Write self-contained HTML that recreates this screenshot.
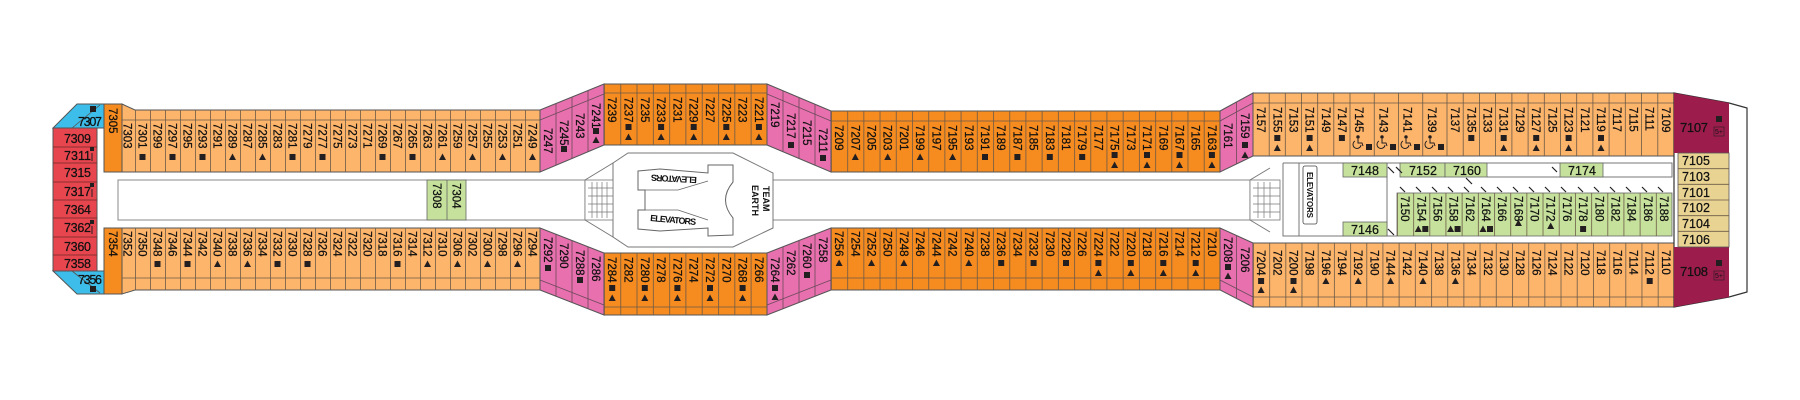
<!DOCTYPE html>
<html><head><meta charset="utf-8"><style>
html,body{margin:0;padding:0;background:#fff;}
svg{display:block;}
text{font-family:"Liberation Sans",sans-serif;font-size:11.5px;fill:#111;stroke:#111;stroke-width:0.25;}
.h{font-size:12.5px;}
.b{font-weight:bold;font-size:9px;stroke-width:0;}
</style></head><body>
<svg width="1800" height="400" viewBox="0 0 1800 400" xmlns="http://www.w3.org/2000/svg">
<defs>
<pattern id="pA" x="120" y="0" width="15" height="400" patternUnits="userSpaceOnUse"><path d="M0.4 0V400" stroke="#6b5a48" stroke-width="0.8"/></pattern>
<pattern id="pM" x="604" y="0" width="16.3" height="400" patternUnits="userSpaceOnUse"><path d="M0.4 0V400" stroke="#6b5a48" stroke-width="0.8"/></pattern>
<pattern id="pD" x="831" y="0" width="16.208" height="400" patternUnits="userSpaceOnUse"><path d="M0.4 0V400" stroke="#6b5a48" stroke-width="0.8"/></pattern>
<pattern id="pR" x="1253" y="0" width="16.19" height="400" patternUnits="userSpaceOnUse"><path d="M0.4 0V400" stroke="#6b5a48" stroke-width="0.8"/></pattern>
<pattern id="pG" x="1397" y="0" width="16.18" height="400" patternUnits="userSpaceOnUse"><path d="M0.4 0V400" stroke="#6b5a48" stroke-width="0.8"/></pattern>
<rect id="s" x="-3" y="-3" width="6" height="6" fill="#231f20"/>
<polygon id="t" points="0,-3.5 3.5,3 -3.5,3" fill="#231f20"/>
<g id="w" fill="none" stroke="#231f20" stroke-width="1"><circle cx="0" cy="-5" r="1.2" fill="#231f20"/><path d="M-3 -1 A4 4 0 1 0 3 3"/><path d="M0 -3V1H4L5 4"/></g>
</defs>

<rect x="118" y="180" width="467" height="40" fill="#fff" stroke="#888" stroke-width="1"/>
<rect x="773" y="180" width="477" height="40" fill="#fff" stroke="#888" stroke-width="1"/>

<rect x="53" y="128" width="44" height="143" fill="#e8464f" stroke="#555" stroke-width="1"/>
<path d="M53 147H97M53 163H97M53 182H97M53 200H97M53 218H97M53 237H97M53 255H97" stroke="#6b2a2a" stroke-width="0.8"/>
<polygon points="77,104 104,104 104,128 53,128" fill="#3dbde9" stroke="#555" stroke-width="1"/>
<path d="M100,105 L72,128" stroke="#555" stroke-width="0.8"/>
<polygon points="53,271 104,271 104,294 77,294" fill="#3dbde9" stroke="#555" stroke-width="1"/>
<path d="M100,293 L72,271" stroke="#555" stroke-width="0.8"/>
<rect x="104" y="104" width="18" height="68" fill="#f68b1f" stroke="#555" stroke-width="1"/>
<rect x="104" y="228" width="18" height="66" fill="#f68b1f" stroke="#555" stroke-width="1"/>
<text class="h" x="78" y="126" textLength="24">7307</text><use href="#s" x="93" y="109"/>
<text class="h" x="78" y="284" textLength="24">7356</text><use href="#s" x="93" y="289"/>
<text class="h" x="64" y="143" textLength="27">7309</text>
<text class="h" x="64" y="160" textLength="27">7311</text>
<text class="h" x="64" y="177" textLength="27">7315</text>
<text class="h" x="64" y="196" textLength="27">7317</text>
<text class="h" x="64" y="214" textLength="27">7364</text>
<text class="h" x="64" y="232" textLength="27">7362</text>
<text class="h" x="64" y="251" textLength="27">7360</text>
<text class="h" x="64" y="268" textLength="27">7358</text>
<rect x="90" y="147" width="4" height="4" fill="#231f20"/><rect x="90" y="183" width="4" height="4" fill="#231f20"/><rect x="90" y="220" width="4" height="4" fill="#231f20"/>
<path d="M92 153V161M92 189V197M92 226V234" stroke="#231f20" stroke-width="1"/>
<text transform="translate(109 108)rotate(90)">7305</text>
<text transform="translate(109 231)rotate(90)">7354</text>

<polygon points="122,104 135,110 540,110 540,172 122,172" fill="#fdb46b" stroke="#555" stroke-width="1"/>
<rect x="122" y="110" width="418" height="62" fill="url(#pA)"/>
<path d="M122 120H540" stroke="#6b5a48" stroke-width="0.8"/>
<polygon points="122,228 540,228 540,290 135,290 122,294" fill="#fdb46b" stroke="#555" stroke-width="1"/>
<rect x="122" y="228" width="418" height="62" fill="url(#pA)"/>
<path d="M122 278H540" stroke="#6b5a48" stroke-width="0.8"/>

<polygon points="540,110 604,84 604,145 540,172" fill="#e870ae" stroke="#555" stroke-width="1"/>
<path d="M556 103.5V165.5M572 97V159M588 90.5V151.5M540 120L604 94" stroke="#6b4a5a" stroke-width="0.8" fill="none"/>
<polygon points="540,228 604,253 604,315 540,290" fill="#e870ae" stroke="#555" stroke-width="1"/>
<path d="M556 234V296M572 240.5V302.5M588 246.5V308.5M540 280L604 305" stroke="#6b4a5a" stroke-width="0.8" fill="none"/>

<rect x="604" y="84" width="163" height="61" fill="#f68b1f" stroke="#555" stroke-width="1"/>
<rect x="604" y="84" width="163" height="61" fill="url(#pM)"/>
<path d="M604 93H767" stroke="#6b5a48" stroke-width="0.8"/>
<rect x="604" y="253" width="163" height="62" fill="#f68b1f" stroke="#555" stroke-width="1"/>
<rect x="604" y="253" width="163" height="62" fill="url(#pM)"/>
<path d="M604 307H767" stroke="#6b5a48" stroke-width="0.8"/>

<polygon points="767,84 831,111 831,172 767,145" fill="#e870ae" stroke="#555" stroke-width="1"/>
<path d="M783 91V152M799 97.5V158.5M815 104V165M767 94L831 121" stroke="#6b4a5a" stroke-width="0.8" fill="none"/>
<polygon points="767,253 831,228 831,290 767,315" fill="#e870ae" stroke="#555" stroke-width="1"/>
<path d="M783 247V309M799 240.5V302.5M815 234V296M767 305L831 280" stroke="#6b4a5a" stroke-width="0.8" fill="none"/>

<rect x="831" y="111" width="389" height="61" fill="#f68b1f" stroke="#555" stroke-width="1"/>
<rect x="831" y="111" width="389" height="61" fill="url(#pD)"/>
<path d="M831 121H1220" stroke="#6b5a48" stroke-width="0.8"/>
<rect x="831" y="228" width="389" height="62" fill="#f68b1f" stroke="#555" stroke-width="1"/>
<rect x="831" y="228" width="389" height="62" fill="url(#pD)"/>
<path d="M831 278H1220" stroke="#6b5a48" stroke-width="0.8"/>

<polygon points="1220,111 1253,93 1253,156 1220,172" fill="#e870ae" stroke="#555" stroke-width="1"/>
<path d="M1236.5 102V164M1220 121L1253 103" stroke="#6b4a5a" stroke-width="0.8" fill="none"/>
<polygon points="1220,228 1253,243 1253,307 1220,290" fill="#e870ae" stroke="#555" stroke-width="1"/>
<path d="M1236.5 235.5V298.5M1220 280L1253 297" stroke="#6b4a5a" stroke-width="0.8" fill="none"/>

<rect x="1253" y="93" width="421" height="63" fill="#fdb46b" stroke="#555" stroke-width="1"/>
<path d="M1253 103H1674M1269.2 93V156M1285.3 93V156M1301.5 93V156M1317.7 93V156M1333.8 93V156M1350 93V156M1374.25 93V156M1398.5 93V156M1422.75 93V156M1447 93V156M1463.2 93V156M1479.4 93V156M1495.6 93V156M1511.9 93V156M1528.1 93V156M1544.3 93V156M1560.5 93V156M1576.7 93V156M1592.9 93V156M1609.1 93V156M1625.3 93V156M1641.5 93V156M1657.8 93V156" stroke="#6b5a48" stroke-width="0.8"/>
<rect x="1253" y="243" width="421" height="64" fill="#fdb46b" stroke="#555" stroke-width="1"/>
<rect x="1253" y="243" width="421" height="64" fill="url(#pR)"/>
<path d="M1253 297H1674" stroke="#6b5a48" stroke-width="0.8"/>

<polygon points="1674,93 1729,103 1747,108 1747,292 1729,297 1674,307" fill="#fff" stroke="#333" stroke-width="1.2"/>
<polygon points="1674,93 1729,103 1729,153 1674,153" fill="#9c1d4b"/>
<polygon points="1674,247 1729,247 1729,297 1674,307" fill="#9c1d4b"/>
<rect x="1678" y="153" width="51" height="94" fill="#e9d392" stroke="#555" stroke-width="0.8"/>
<path d="M1678 168.7H1729M1678 184.3H1729M1678 200H1729M1678 215.7H1729M1678 231.3H1729" stroke="#6b5a48" stroke-width="0.8"/>
<text class="h" x="1682" y="165" textLength="28">7105</text>
<text class="h" x="1682" y="181" textLength="28">7103</text>
<text class="h" x="1682" y="197" textLength="28">7101</text>
<text class="h" x="1682" y="212" textLength="28">7102</text>
<text class="h" x="1682" y="228" textLength="28">7104</text>
<text class="h" x="1682" y="244" textLength="28">7106</text>
<text class="h" x="1680" y="132" textLength="28" style="font-size:13px">7107</text>
<text class="h" x="1680" y="276" textLength="28" style="font-size:13px">7108</text>
<use href="#s" x="1719" y="119"/><rect x="1714" y="127" width="10" height="9" fill="none" stroke="#231f20" stroke-width="0.6"/><text x="1715" y="134" style="font-size:7px;stroke-width:0">5+</text>
<use href="#s" x="1719" y="263"/><rect x="1714" y="271" width="10" height="9" fill="none" stroke="#231f20" stroke-width="0.6"/><text x="1715" y="278" style="font-size:7px;stroke-width:0">5+</text>

<rect x="427" y="180" width="39" height="40" fill="#c6e19b" stroke="#666" stroke-width="0.8"/>
<path d="M447 180V220" stroke="#666" stroke-width="0.8"/>
<text transform="translate(433 183)rotate(90)">7308</text>
<text transform="translate(452.5 183)rotate(90)">7304</text>

<polygon points="613,163 628,153 733,153 773,173 773,228 733,247 628,247 613,237" fill="#fff" stroke="#777" stroke-width="1"/>
<path d="M585 180L613 163M585 220L613 237" stroke="#777" stroke-width="1" fill="none"/>
<rect x="585" y="180" width="28" height="40" fill="#fff" stroke="#777" stroke-width="0.8"/>
<path d="M592 182V218M597 182V218M602 182V218M607 182V218M588 188H613M588 196H613M588 204H613M588 212H613" stroke="#777" stroke-width="0.7"/>
<path d="M638 171 L660 169 L708 173 L708 165 L733 165 L733 182 Q718 200 733 218 L733 235 L708 236 L708 228 L660 231 L638 229 L638 210 L645 210 L645 190 L638 190 Z" fill="#fff" stroke="#666" stroke-width="1"/>
<path d="M645 190L678 190L708 181M645 210L678 210L708 220" stroke="#666" stroke-width="0.8" fill="none"/>
<text class="b" transform="translate(697 177)rotate(183)" textLength="46">ELEVATORS</text>
<text class="b" transform="translate(650 221)rotate(5)" textLength="46">ELEVATORS</text>
<text class="b" transform="translate(763 186)rotate(90)">TEAM</text>
<text class="b" transform="translate(752 185)rotate(90)">EARTH</text>

<path d="M1250 180L1270 168M1250 220L1270 232" stroke="#777" stroke-width="1"/>
<rect x="1250" y="180" width="30" height="40" fill="#fff" stroke="#777" stroke-width="0.8"/>
<path d="M1258 182V218M1264 182V218M1270 182V218M1253 188H1280M1253 196H1280M1253 204H1280M1253 212H1280" stroke="#777" stroke-width="0.7"/>
<path d="M1283 163H1672V177H1487M1283 163V236H1397M1299 163V236M1387 163V236" stroke="#777" stroke-width="1" fill="none"/>
<rect x="1303" y="166" width="14" height="58" rx="2" fill="#fff" stroke="#444" stroke-width="0.8"/>
<text transform="translate(1307 172)rotate(90)" style="font-size:8px;font-weight:bold;stroke-width:0" textLength="46">ELEVATORS</text>
<rect x="1343" y="163" width="44" height="14" fill="#c6e19b" stroke="#666" stroke-width="0.8"/>
<rect x="1400" y="163" width="45" height="14" fill="#c6e19b" stroke="#666" stroke-width="0.8"/>
<rect x="1445" y="163" width="42" height="14" fill="#c6e19b" stroke="#666" stroke-width="0.8"/>
<rect x="1560" y="163" width="43" height="14" fill="#c6e19b" stroke="#666" stroke-width="0.8"/>
<rect x="1343" y="222" width="44" height="14" fill="#c6e19b" stroke="#666" stroke-width="0.8"/>
<text class="h" x="1351" y="175" textLength="28">7148</text>
<text class="h" x="1409" y="175" textLength="28">7152</text>
<text class="h" x="1453" y="175" textLength="28">7160</text>
<text class="h" x="1568" y="175" textLength="28">7174</text>
<text class="h" x="1351" y="234" textLength="28">7146</text>
<path d="M1388 167l6 6M1396 167l6 6M1466 178l6 6M1552 167l5 5M1388 229l6 6" stroke="#231f20" stroke-width="1.2"/>
<rect x="1397" y="193" width="275" height="43" fill="#c6e19b" stroke="#666" stroke-width="0.8"/>
<rect x="1397" y="193" width="275" height="43" fill="url(#pG)"/>
<path d="M1400 187l5 5M1416 187l5 5M1432 187l5 5M1448 187l5 5M1464 187l5 5M1481 187l5 5M1497 187l5 5M1513 187l5 5M1529 187l5 5M1545 187l5 5M1561 187l5 5M1578 187l5 5M1594 187l5 5M1610 187l5 5M1626 187l5 5M1642 187l5 5M1658 187l5 5" stroke="#231f20" stroke-width="1.2"/>

<g>
<text transform="translate(123.5 123)rotate(90)">7303</text>
<text transform="translate(138.5 123)rotate(90)">7301</text><use href="#s" x="142.5" y="157"/>
<text transform="translate(153.5 123)rotate(90)">7299</text>
<text transform="translate(168.5 123)rotate(90)">7297</text><use href="#s" x="172.5" y="157"/>
<text transform="translate(183.5 123)rotate(90)">7295</text>
<text transform="translate(198.5 123)rotate(90)">7293</text><use href="#s" x="202.5" y="157"/>
<text transform="translate(213.5 123)rotate(90)">7291</text>
<text transform="translate(228.5 123)rotate(90)">7289</text><use href="#t" x="232.5" y="157"/>
<text transform="translate(243.5 123)rotate(90)">7287</text>
<text transform="translate(258.5 123)rotate(90)">7285</text><use href="#t" x="262.5" y="157"/>
<text transform="translate(273.5 123)rotate(90)">7283</text>
<text transform="translate(288.5 123)rotate(90)">7281</text><use href="#s" x="292.5" y="157"/>
<text transform="translate(303.5 123)rotate(90)">7279</text>
<text transform="translate(318.5 123)rotate(90)">7277</text><use href="#s" x="322.5" y="157"/>
<text transform="translate(333.5 123)rotate(90)">7275</text>
<text transform="translate(348.5 123)rotate(90)">7273</text>
<text transform="translate(363.5 123)rotate(90)">7271</text>
<text transform="translate(378.5 123)rotate(90)">7269</text><use href="#s" x="382.5" y="157"/>
<text transform="translate(393.5 123)rotate(90)">7267</text>
<text transform="translate(408.5 123)rotate(90)">7265</text><use href="#s" x="412.5" y="157"/>
<text transform="translate(423.5 123)rotate(90)">7263</text>
<text transform="translate(438.5 123)rotate(90)">7261</text><use href="#t" x="442.5" y="157"/>
<text transform="translate(453.5 123)rotate(90)">7259</text>
<text transform="translate(468.5 123)rotate(90)">7257</text><use href="#t" x="472.5" y="157"/>
<text transform="translate(483.5 123)rotate(90)">7255</text>
<text transform="translate(498.5 123)rotate(90)">7253</text><use href="#t" x="502.5" y="157"/>
<text transform="translate(513.5 123)rotate(90)">7251</text>
<text transform="translate(528.5 123)rotate(90)">7249</text><use href="#t" x="532.5" y="157"/>
</g>
<g>
<text transform="translate(123.5 231)rotate(90)">7352</text>
<text transform="translate(138.5 231)rotate(90)">7350</text>
<text transform="translate(153.5 231)rotate(90)">7348</text><use href="#s" x="157.5" y="264"/>
<text transform="translate(168.5 231)rotate(90)">7346</text>
<text transform="translate(183.5 231)rotate(90)">7344</text><use href="#s" x="187.5" y="264"/>
<text transform="translate(198.5 231)rotate(90)">7342</text>
<text transform="translate(213.5 231)rotate(90)">7340</text><use href="#t" x="217.5" y="264"/>
<text transform="translate(228.5 231)rotate(90)">7338</text>
<text transform="translate(243.5 231)rotate(90)">7336</text><use href="#t" x="247.5" y="264"/>
<text transform="translate(258.5 231)rotate(90)">7334</text>
<text transform="translate(273.5 231)rotate(90)">7332</text><use href="#s" x="277.5" y="264"/>
<text transform="translate(288.5 231)rotate(90)">7330</text>
<text transform="translate(303.5 231)rotate(90)">7328</text><use href="#s" x="307.5" y="264"/>
<text transform="translate(318.5 231)rotate(90)">7326</text>
<text transform="translate(333.5 231)rotate(90)">7324</text>
<text transform="translate(348.5 231)rotate(90)">7322</text>
<text transform="translate(363.5 231)rotate(90)">7320</text>
<text transform="translate(378.5 231)rotate(90)">7318</text>
<text transform="translate(393.5 231)rotate(90)">7316</text><use href="#s" x="397.5" y="264"/>
<text transform="translate(408.5 231)rotate(90)">7314</text>
<text transform="translate(423.5 231)rotate(90)">7312</text><use href="#t" x="427.5" y="264"/>
<text transform="translate(438.5 231)rotate(90)">7310</text>
<text transform="translate(453.5 231)rotate(90)">7306</text><use href="#t" x="457.5" y="264"/>
<text transform="translate(468.5 231)rotate(90)">7302</text>
<text transform="translate(483.5 231)rotate(90)">7300</text><use href="#t" x="487.5" y="264"/>
<text transform="translate(498.5 231)rotate(90)">7298</text>
<text transform="translate(513.5 231)rotate(90)">7296</text><use href="#t" x="517.5" y="264"/>
<text transform="translate(528.5 231)rotate(90)">7294</text>
</g>
<g>
<text transform="translate(544 128)rotate(90)">7247</text>
<text transform="translate(560 120)rotate(90)">7245</text><use href="#s" x="564" y="149"/>
<text transform="translate(576 113)rotate(90)">7243</text>
<text transform="translate(592 103)rotate(90)">7241</text><use href="#s" x="596" y="131"/><use href="#t" x="596" y="140"/>
<text transform="translate(771 102)rotate(90)">7219</text>
<text transform="translate(787 113)rotate(90)">7217</text><use href="#s" x="791" y="145"/>
<text transform="translate(803 120)rotate(90)">7215</text>
<text transform="translate(819 128)rotate(90)">7211</text><use href="#s" x="823" y="158"/>
<text transform="translate(544 237)rotate(90)">7292</text><use href="#s" x="548" y="268"/>
<text transform="translate(560 243)rotate(90)">7290</text>
<text transform="translate(576 250)rotate(90)">7288</text><use href="#s" x="580" y="280"/>
<text transform="translate(592 256)rotate(90)">7286</text>
<text transform="translate(771 257)rotate(90)">7264</text><use href="#s" x="775" y="288"/><use href="#t" x="775" y="297"/>
<text transform="translate(787 250)rotate(90)">7262</text>
<text transform="translate(803 243)rotate(90)">7260</text><use href="#s" x="807" y="275"/>
<text transform="translate(819 237)rotate(90)">7258</text>
<text transform="translate(1224 123)rotate(90)">7161</text>
<text transform="translate(1241 113)rotate(90)">7159</text><use href="#s" x="1245" y="145"/><use href="#t" x="1245" y="155"/>
<text transform="translate(1224 237)rotate(90)">7208</text><use href="#s" x="1228" y="267"/><use href="#t" x="1228" y="276"/>
<text transform="translate(1241 247)rotate(90)">7206</text>
</g>
<g>
<text transform="translate(608.2 97)rotate(90)">7239</text>
<text transform="translate(624.5 97)rotate(90)">7237</text><use href="#s" x="628.5" y="127"/><use href="#t" x="628.5" y="137"/>
<text transform="translate(640.8 97)rotate(90)">7235</text>
<text transform="translate(657.1 97)rotate(90)">7233</text><use href="#s" x="661.1" y="127"/><use href="#t" x="661.1" y="137"/>
<text transform="translate(673.4 97)rotate(90)">7231</text>
<text transform="translate(689.7 97)rotate(90)">7229</text><use href="#s" x="693.7" y="127"/><use href="#t" x="693.7" y="137"/>
<text transform="translate(706 97)rotate(90)">7227</text>
<text transform="translate(722.3 97)rotate(90)">7225</text><use href="#s" x="726.3" y="127"/><use href="#t" x="726.3" y="137"/>
<text transform="translate(738.6 97)rotate(90)">7223</text>
<text transform="translate(754.9 97)rotate(90)">7221</text><use href="#s" x="758.9" y="127"/><use href="#t" x="758.9" y="137"/>
<text transform="translate(608.2 257)rotate(90)">7284</text><use href="#s" x="612.2" y="288"/><use href="#t" x="612.2" y="298"/>
<text transform="translate(624.5 257)rotate(90)">7282</text>
<text transform="translate(640.8 257)rotate(90)">7280</text><use href="#s" x="644.8" y="288"/><use href="#t" x="644.8" y="298"/>
<text transform="translate(657.1 257)rotate(90)">7278</text>
<text transform="translate(673.4 257)rotate(90)">7276</text><use href="#s" x="677.4" y="288"/><use href="#t" x="677.4" y="298"/>
<text transform="translate(689.7 257)rotate(90)">7274</text>
<text transform="translate(706 257)rotate(90)">7272</text><use href="#s" x="710" y="288"/><use href="#t" x="710" y="298"/>
<text transform="translate(722.3 257)rotate(90)">7270</text>
<text transform="translate(738.6 257)rotate(90)">7268</text><use href="#s" x="742.6" y="288"/><use href="#t" x="742.6" y="298"/>
<text transform="translate(754.9 257)rotate(90)">7266</text>
</g>
<g>
<text transform="translate(835.1 125)rotate(90)">7209</text>
<text transform="translate(851.3 125)rotate(90)">7207</text><use href="#t" x="855.3" y="157"/>
<text transform="translate(867.5 125)rotate(90)">7205</text>
<text transform="translate(883.7 125)rotate(90)">7203</text><use href="#t" x="887.7" y="157"/>
<text transform="translate(899.9 125)rotate(90)">7201</text>
<text transform="translate(916.1 125)rotate(90)">7199</text><use href="#t" x="920.1" y="157"/>
<text transform="translate(932.4 125)rotate(90)">7197</text>
<text transform="translate(948.6 125)rotate(90)">7195</text><use href="#t" x="952.6" y="157"/>
<text transform="translate(964.8 125)rotate(90)">7193</text>
<text transform="translate(981 125)rotate(90)">7191</text><use href="#s" x="985" y="157"/>
<text transform="translate(997.2 125)rotate(90)">7189</text>
<text transform="translate(1013.4 125)rotate(90)">7187</text><use href="#s" x="1017.4" y="157"/>
<text transform="translate(1029.6 125)rotate(90)">7185</text>
<text transform="translate(1045.8 125)rotate(90)">7183</text><use href="#s" x="1049.8" y="157"/>
<text transform="translate(1062 125)rotate(90)">7181</text>
<text transform="translate(1078.2 125)rotate(90)">7179</text><use href="#s" x="1082.2" y="157"/>
<text transform="translate(1094.4 125)rotate(90)">7177</text>
<text transform="translate(1110.6 125)rotate(90)">7175</text><use href="#s" x="1114.6" y="155"/><use href="#t" x="1114.6" y="165"/>
<text transform="translate(1126.8 125)rotate(90)">7173</text>
<text transform="translate(1143 125)rotate(90)">7171</text><use href="#s" x="1147" y="155"/><use href="#t" x="1147" y="165"/>
<text transform="translate(1159.3 125)rotate(90)">7169</text>
<text transform="translate(1175.5 125)rotate(90)">7167</text><use href="#s" x="1179.5" y="155"/><use href="#t" x="1179.5" y="165"/>
<text transform="translate(1191.7 125)rotate(90)">7165</text>
<text transform="translate(1207.9 125)rotate(90)">7163</text><use href="#s" x="1211.9" y="155"/><use href="#t" x="1211.9" y="165"/>
</g>
<g>
<text transform="translate(835.1 231)rotate(90)">7256</text><use href="#t" x="839.1" y="263"/>
<text transform="translate(851.3 231)rotate(90)">7254</text>
<text transform="translate(867.5 231)rotate(90)">7252</text><use href="#t" x="871.5" y="263"/>
<text transform="translate(883.7 231)rotate(90)">7250</text>
<text transform="translate(899.9 231)rotate(90)">7248</text><use href="#t" x="903.9" y="263"/>
<text transform="translate(916.1 231)rotate(90)">7246</text>
<text transform="translate(932.4 231)rotate(90)">7244</text><use href="#t" x="936.4" y="263"/>
<text transform="translate(948.6 231)rotate(90)">7242</text>
<text transform="translate(964.8 231)rotate(90)">7240</text><use href="#t" x="968.8" y="263"/>
<text transform="translate(981 231)rotate(90)">7238</text>
<text transform="translate(997.2 231)rotate(90)">7236</text><use href="#s" x="1001.2" y="263"/>
<text transform="translate(1013.4 231)rotate(90)">7234</text>
<text transform="translate(1029.6 231)rotate(90)">7232</text><use href="#s" x="1033.6" y="263"/>
<text transform="translate(1045.8 231)rotate(90)">7230</text>
<text transform="translate(1062 231)rotate(90)">7228</text><use href="#s" x="1066" y="263"/>
<text transform="translate(1078.2 231)rotate(90)">7226</text>
<text transform="translate(1094.4 231)rotate(90)">7224</text><use href="#s" x="1098.4" y="263"/><use href="#t" x="1098.4" y="273"/>
<text transform="translate(1110.6 231)rotate(90)">7222</text>
<text transform="translate(1126.8 231)rotate(90)">7220</text><use href="#s" x="1130.8" y="263"/><use href="#t" x="1130.8" y="273"/>
<text transform="translate(1143 231)rotate(90)">7218</text>
<text transform="translate(1159.3 231)rotate(90)">7216</text><use href="#s" x="1163.3" y="263"/><use href="#t" x="1163.3" y="273"/>
<text transform="translate(1175.5 231)rotate(90)">7214</text>
<text transform="translate(1191.7 231)rotate(90)">7212</text><use href="#s" x="1195.7" y="263"/><use href="#t" x="1195.7" y="273"/>
<text transform="translate(1207.9 231)rotate(90)">7210</text>
</g>
<g>
<text transform="translate(1257.1 107)rotate(90)">7157</text>
<text transform="translate(1273.3 107)rotate(90)">7155</text><use href="#s" x="1277.3" y="138"/><use href="#t" x="1277.3" y="148"/>
<text transform="translate(1289.4 107)rotate(90)">7153</text>
<text transform="translate(1305.6 107)rotate(90)">7151</text><use href="#s" x="1309.6" y="138"/><use href="#t" x="1309.6" y="148"/>
<text transform="translate(1321.8 107)rotate(90)">7149</text>
<text transform="translate(1337.9 107)rotate(90)">7147</text><use href="#s" x="1341.9" y="138"/>
<text transform="translate(1355 107)rotate(90)">7145</text><use href="#w" x="1358" y="142"/><use href="#s" x="1369" y="147"/>
<text transform="translate(1379.3 107)rotate(90)">7143</text><use href="#w" x="1382" y="142"/><use href="#s" x="1393" y="147"/>
<text transform="translate(1403.5 107)rotate(90)">7141</text><use href="#w" x="1406" y="142"/><use href="#s" x="1417" y="147"/>
<text transform="translate(1427.8 107)rotate(90)">7139</text><use href="#w" x="1430" y="142"/><use href="#s" x="1441" y="147"/>
<text transform="translate(1451.1 107)rotate(90)">7137</text>
<text transform="translate(1467.3 107)rotate(90)">7135</text><use href="#s" x="1471.3" y="138"/>
<text transform="translate(1483.5 107)rotate(90)">7133</text>
<text transform="translate(1499.7 107)rotate(90)">7131</text><use href="#s" x="1503.7" y="138"/><use href="#t" x="1503.7" y="148"/>
<text transform="translate(1516 107)rotate(90)">7129</text>
<text transform="translate(1532.2 107)rotate(90)">7127</text><use href="#s" x="1536.2" y="138"/><use href="#t" x="1536.2" y="148"/>
<text transform="translate(1548.4 107)rotate(90)">7125</text>
<text transform="translate(1564.6 107)rotate(90)">7123</text><use href="#s" x="1568.6" y="138"/><use href="#t" x="1568.6" y="148"/>
<text transform="translate(1580.8 107)rotate(90)">7121</text>
<text transform="translate(1597 107)rotate(90)">7119</text><use href="#s" x="1601" y="138"/><use href="#t" x="1601" y="148"/>
<text transform="translate(1613.2 107)rotate(90)">7117</text>
<text transform="translate(1629.4 107)rotate(90)">7115</text>
<text transform="translate(1645.6 107)rotate(90)">7111</text>
<text transform="translate(1661.9 107)rotate(90)">7109</text>
</g>
<g>
<text transform="translate(1257.1 250)rotate(90)">7204</text><use href="#s" x="1261.1" y="281"/><use href="#t" x="1261.1" y="290"/>
<text transform="translate(1273.3 250)rotate(90)">7202</text>
<text transform="translate(1289.5 250)rotate(90)">7200</text><use href="#s" x="1293.5" y="281"/><use href="#t" x="1293.5" y="290"/>
<text transform="translate(1305.7 250)rotate(90)">7198</text>
<text transform="translate(1321.9 250)rotate(90)">7196</text><use href="#t" x="1325.9" y="281"/>
<text transform="translate(1338.1 250)rotate(90)">7194</text>
<text transform="translate(1354.2 250)rotate(90)">7192</text><use href="#t" x="1358.2" y="281"/>
<text transform="translate(1370.4 250)rotate(90)">7190</text>
<text transform="translate(1386.6 250)rotate(90)">7144</text><use href="#t" x="1390.6" y="281"/>
<text transform="translate(1402.8 250)rotate(90)">7142</text>
<text transform="translate(1419 250)rotate(90)">7140</text><use href="#t" x="1423" y="281"/>
<text transform="translate(1435.2 250)rotate(90)">7138</text>
<text transform="translate(1451.4 250)rotate(90)">7136</text><use href="#t" x="1455.4" y="281"/>
<text transform="translate(1467.6 250)rotate(90)">7134</text>
<text transform="translate(1483.8 250)rotate(90)">7132</text>
<text transform="translate(1500 250)rotate(90)">7130</text>
<text transform="translate(1516.1 250)rotate(90)">7128</text>
<text transform="translate(1532.3 250)rotate(90)">7126</text>
<text transform="translate(1548.5 250)rotate(90)">7124</text>
<text transform="translate(1564.7 250)rotate(90)">7122</text>
<text transform="translate(1580.9 250)rotate(90)">7120</text>
<text transform="translate(1597.1 250)rotate(90)">7118</text>
<text transform="translate(1613.3 250)rotate(90)">7116</text>
<text transform="translate(1629.5 250)rotate(90)">7114</text>
<text transform="translate(1645.7 250)rotate(90)">7112</text><use href="#s" x="1649.7" y="281"/>
<text transform="translate(1661.9 250)rotate(90)">7110</text>
</g>
<g>
<text transform="translate(1401.1 196)rotate(90)">7150</text>
<text transform="translate(1417.3 196)rotate(90)">7154</text><use href="#t" x="1418.3" y="229"/><use href="#s" x="1425.3" y="229"/>
<text transform="translate(1433.5 196)rotate(90)">7156</text>
<text transform="translate(1449.6 196)rotate(90)">7158</text><use href="#t" x="1450.6" y="229"/><use href="#s" x="1457.6" y="229"/>
<text transform="translate(1465.8 196)rotate(90)">7162</text>
<text transform="translate(1482 196)rotate(90)">7164</text><use href="#t" x="1483" y="229"/><use href="#s" x="1490" y="229"/>
<text transform="translate(1498.2 196)rotate(90)">7166</text>
<text transform="translate(1514.4 196)rotate(90)">7168</text><use href="#t" x="1518.4" y="223"/>
<text transform="translate(1530.5 196)rotate(90)">7170</text>
<text transform="translate(1546.7 196)rotate(90)">7172</text><use href="#t" x="1550.7" y="226"/>
<text transform="translate(1562.9 196)rotate(90)">7176</text>
<text transform="translate(1579.1 196)rotate(90)">7178</text><use href="#s" x="1583.1" y="229"/>
<text transform="translate(1595.3 196)rotate(90)">7180</text>
<text transform="translate(1611.4 196)rotate(90)">7182</text>
<text transform="translate(1627.6 196)rotate(90)">7184</text>
<text transform="translate(1643.8 196)rotate(90)">7186</text>
<text transform="translate(1660 196)rotate(90)">7188</text>
</g>
</svg>
</body></html>
